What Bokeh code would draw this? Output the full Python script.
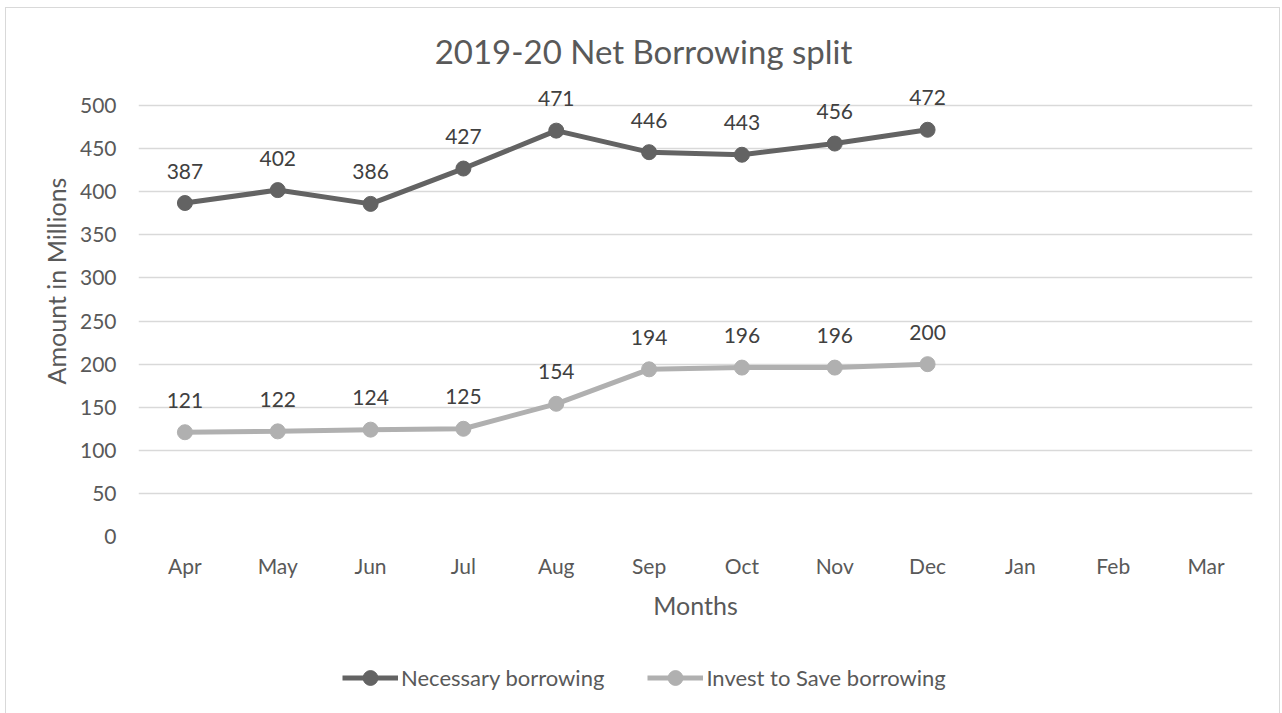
from bokeh.plotting import figure
from bokeh.layouts import column
from bokeh.models import (Range1d, FactorRange, Legend, LegendItem, Label,
                          ColumnDataSource, FixedTicker)
from bokeh.core.properties import value
from bokeh.embed import file_html
from bokeh.resources import INLINE

months = ["Apr", "May", "Jun", "Jul", "Aug", "Sep", "Oct", "Nov", "Dec", "Jan", "Feb", "Mar"]
data_months = ["Apr", "May", "Jun", "Jul", "Aug", "Sep", "Oct", "Nov", "Dec"]
necessary = [387, 402, 386, 427, 471, 446, 443, 456, 472]
invest = [121, 122, 124, 125, 154, 194, 196, 196, 200]
series_names = ["Necessary borrowing", "Invest to Save borrowing"]
title_text = "2019-20 Net Borrowing split"
y_ticks = [0, 50, 100, 150, 200, 250, 300, 350, 400, 450, 500]

FONT = "Lato"
TXT = "#595959"
DARK = "#636363"
LIGHT = "#b0b0b0"

p = figure(width=1273, height=640, x_range=FactorRange(*months), y_range=Range1d(0, 593),
           output_backend="svg", toolbar_location=None,
           min_border_left=132, min_border_right=27, min_border_top=17, min_border_bottom=112)
p.outline_line_color = None
p.background_fill_color = "white"
p.border_fill_color = "white"

p.add_layout(Label(x=505, y=486, x_units="screen", y_units="screen", text=title_text,
                   text_font=FONT, text_font_size="33px", text_color=TXT,
                   text_align="center", text_baseline="middle"))

p.xgrid.grid_line_color = None
p.ygrid.grid_line_color = "#d9d9d9"
p.ygrid.grid_line_width = 1.3
p.yaxis.ticker = FixedTicker(ticks=y_ticks)

for ax in (p.xaxis, p.yaxis):
    ax.axis_line_color = None
    ax.major_tick_line_color = None
    ax.minor_tick_line_color = None
    ax.major_tick_out = 0
    ax.major_tick_in = 0
    ax.minor_tick_out = 0
    ax.major_label_text_font = FONT
    ax.major_label_text_font_size = "21px"
    ax.major_label_text_color = TXT
    ax.axis_label_text_font = FONT
    ax.axis_label_text_font_size = "25px"
    ax.axis_label_text_color = TXT
    ax.axis_label_text_font_style = "normal"

p.xaxis.axis_label = "Months"
p.xaxis.major_label_standoff = 16
p.xaxis.axis_label_standoff = 9
p.yaxis.axis_label = "Amount in Millions"
p.yaxis.major_label_standoff = 22
p.yaxis.axis_label_standoff = 6

src = ColumnDataSource(dict(m=data_months, nec=necessary, inv=invest,
                            nec_t=[str(v) for v in necessary], inv_t=[str(v) for v in invest]))

p.line("m", "nec", source=src, line_color=DARK, line_width=5)
p.scatter("m", "nec", source=src, size=15, fill_color=DARK, line_color=DARK)
p.line("m", "inv", source=src, line_color=LIGHT, line_width=5)
p.scatter("m", "inv", source=src, size=15, fill_color=LIGHT, line_color=LIGHT)

for col, txt in (("nec", "nec_t"), ("inv", "inv_t")):
    p.text("m", col, text=txt, source=src, text_font=value(FONT), text_font_size="21px",
           text_color="#404040", text_align="center", text_baseline="middle", y_offset=-32)

# legend strip (its renderers hold one point outside the visible range)
q = figure(width=1273, height=65, x_range=Range1d(0, 1), y_range=Range1d(0, 1),
           output_backend="svg", toolbar_location=None,
           min_border_left=0, min_border_right=0, min_border_top=0, min_border_bottom=0)
q.axis.visible = False
q.grid.visible = False
q.outline_line_color = None
q.border_fill_color = "white"
dummy = ColumnDataSource(dict(x=[-10], y=[-10]))
items = []
for name, colr in zip(series_names, (DARK, LIGHT)):
    ln = q.line("x", "y", source=dummy, line_color=colr, line_width=5)
    sc = q.scatter("x", "y", source=dummy, size=15, fill_color=colr, line_color=colr)
    items.append(LegendItem(label=name, renderers=[ln, sc]))
legend = Legend(items=items, orientation="horizontal", location=(204, 17),
                glyph_width=56, glyph_height=37, label_standoff=3, spacing=43,
                label_text_font=FONT, label_text_font_size="22px", label_text_color=TXT,
                border_line_color=None, background_fill_alpha=0, padding=0, margin=0)
q.add_layout(legend, "center")

layout = column(p, q, spacing=0,
                styles={"margin-left": "5px", "margin-top": "7px",
                        "border-top": "1px solid #d9d9d9", "border-left": "1px solid #d9d9d9",
                        "border-right": "1px solid #d9d9d9"})

open("out.html", "w").write(file_html(layout, INLINE))
